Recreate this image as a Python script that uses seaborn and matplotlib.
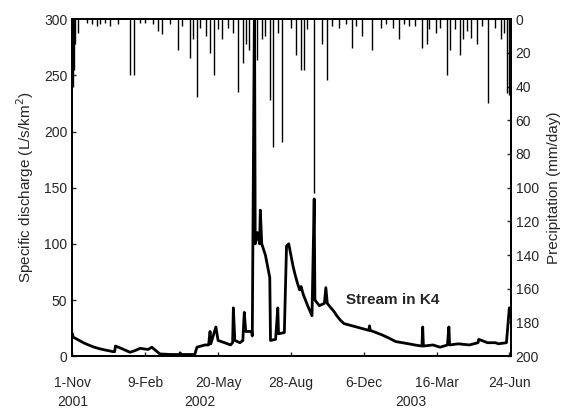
import numpy as np
import pandas as pd
import matplotlib
matplotlib.use('Agg')
import matplotlib.pyplot as plt
import matplotlib.transforms as mtransforms
import seaborn as sns

q_day = [0, 1, 8, 15, 22, 30, 38, 45, 56, 58, 59, 65, 79, 86, 93, 98, 104, 109, 120, 135,
         147, 148, 149, 168, 171, 182, 187, 189, 190, 197, 200, 209, 217, 220, 221, 223,
         230, 234, 236, 238, 246, 247, 250, 251, 254, 257, 258, 260, 265, 271, 272, 279,
         282, 283, 291, 294, 297, 300, 303, 306, 309, 312, 314, 317, 323, 329, 332, 333,
         339, 346, 348, 350, 355, 359, 363, 368, 373, 390, 407, 408, 409, 425, 435, 444,
         462, 470, 480, 481, 482, 495, 505, 515, 517, 518, 530, 545, 557, 558, 570, 581,
         585, 596, 600]
q_val = [20, 17, 14.5, 12, 10, 8, 6.5, 5.5, 4, 4, 9, 7.5, 3.5, 5, 7, 6.5, 6, 8, 2, 1.5,
         1.5, 3, 1.5, 1.5, 8, 10, 10, 22, 11, 26, 14, 12, 10, 12, 43, 14,
         12, 14, 39, 22, 22, 18, 320, 100, 110, 100, 130, 100, 90, 70, 14, 15,
         43, 20, 21, 98, 100, 90, 80, 72, 65, 59, 62, 55, 45, 36, 140, 50,
         45, 47, 61, 47, 43, 40, 36, 32, 29, 26, 23, 27, 23, 19, 16, 13,
         11, 10, 9, 26, 9, 10, 8, 10, 26, 10, 11, 10, 12, 15, 12, 12,
         11, 12, 43]

# Daily precipitation events (mm/day)
p_day = [1, 2, 4, 8, 20, 27, 34, 38, 45, 52, 63, 79, 85, 93, 100, 110, 118, 123, 134,
         145, 150, 161, 165, 171, 175, 183, 189, 195, 200, 205, 213, 220, 227, 234, 238,
         243, 249, 254, 260, 265, 271, 275, 282, 288, 300, 307, 314, 318, 322, 332, 343,
         349, 356, 366, 375, 384, 390, 398, 411, 424, 430, 440, 448, 455, 462, 470, 480,
         487, 490, 499, 505, 514, 519, 525, 532, 537, 542, 548, 556, 562, 571, 580, 589,
         592, 597, 599]
p_val = [40, 30, 15, 8, 2, 3, 4, 3, 2, 4, 3, 33, 33, 2, 2, 3, 7, 9, 3,
         18, 4, 23, 12, 46, 5, 10, 20, 33, 6, 12, 5, 8, 43, 26, 15,
         18, 35, 24, 12, 10, 48, 76, 8, 73, 5, 21, 30, 30, 6, 103, 15,
         36, 4, 5, 3, 17, 4, 10, 18, 5, 3, 5, 12, 3, 4, 4, 17,
         15, 6, 8, 5, 33, 18, 6, 21, 12, 7, 11, 15, 4, 50, 5, 12,
         8, 44, 45]

tick_days = [0, 100, 200, 300, 400, 500, 600]
tick_labels = ['1-Nov', '9-Feb', '20-May', '28-Aug', '6-Dec', '16-Mar', '24-Jun']
year_days = [0, 175, 465]
year_labels = ['2001', '2002', '2003']

start = pd.Timestamp('2001-11-01')
flow = pd.DataFrame({'date': start + pd.to_timedelta(q_day, unit='D'), 'q': q_val})
rain = pd.DataFrame({'date': start + pd.to_timedelta(p_day, unit='D'), 'p': p_val})

sns.set_style('ticks')
plt.rcParams['font.family'] = ['Liberation Sans', 'DejaVu Sans']

fig = plt.figure(figsize=(5.72, 4.08), dpi=100)
ax = fig.add_axes([0.126, 0.127, 0.767, 0.826])
ax2 = ax.twinx()

sns.lineplot(data=flow, x='date', y='q', ax=ax, color='black', linewidth=2.0)
ax2.vlines(rain['date'], 0, rain['p'], color='black', linewidth=1.0)

ax.set_ylim(0, 300)
ax.set_yticks([0, 50, 100, 150, 200, 250, 300])
ax2.set_ylim(200, 0)
ax2.set_yticks(range(0, 201, 20))
ax.set_xlim(start - pd.Timedelta(days=0.5), start + pd.Timedelta(days=602))
ax.set_xticks(start + pd.to_timedelta(tick_days, unit='D'))
ax.set_xticklabels(tick_labels)

ax.set_xlabel('')
ax.set_ylabel('Specific discharge (L/s/km$^2$)', fontsize=11, labelpad=6)
ax2.set_ylabel('Precipitation (mm/day)', fontsize=11, labelpad=6)
ax.tick_params(axis='both', direction='in', labelsize=10, length=3, width=1)
ax.tick_params(axis='x', pad=14)
ax2.tick_params(axis='y', direction='in', labelsize=10, length=3, width=1)

for a in (ax, ax2):
    for s in a.spines.values():
        s.set_linewidth(1.3)
        s.set_color('black')

trans = mtransforms.blended_transform_factory(ax.transData, ax.transAxes)
for d, lab in zip(year_days, year_labels):
    ax.text(start + pd.Timedelta(days=d), -0.135, lab, transform=trans,
            ha='center', va='center', fontsize=10)

ax.text(start + pd.Timedelta(days=376), 50, 'Stream in K4', fontsize=11,
        fontweight='bold', ha='left', va='center')

fig.savefig('out.png', dpi=100)
